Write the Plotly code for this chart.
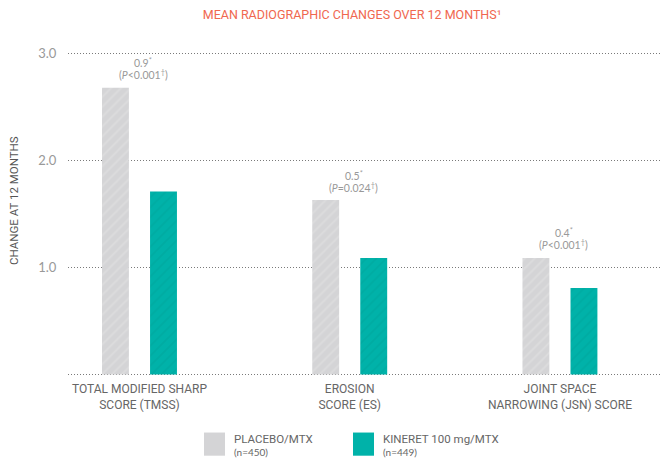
import plotly.graph_objects as go

# chart data
categories = ['TOTAL MODIFIED SHARP<br>SCORE (TMSS)', 'EROSION<br>SCORE (ES)', 'JOINT SPACE<br>NARROWING (JSN) SCORE']
placebo = [2.68, 1.63, 1.09]
kineret = [1.71, 1.09, 0.81]
diffLabels = ['0.9', '0.5', '0.4']
pLabels = ['<0.001', '=0.024', '<0.001']
seriesNames = ['PLACEBO/MTX', 'KINERET 100 mg/MTX']
seriesN = ['(n=450)', '(n=449)']
yTicks = [0, 1, 2, 3]
yTickText = ['', '1.0', '2.0', '3.0']

GRAY = '#d4d4d6'
GRAY_HATCH = '#e3e3e4'
TEAL = '#00b2a9'
TEAL_HATCH = '#00a59c'
TITLE_COLOR = '#f0674f'
TEXT_COLOR = '#666666'
TICK_COLOR = '#999999'

# the page body adds 8px around the plot div, so the figure is 8px smaller
PAGE_PAD = 8


def HatchBar(name, values, bg, fg):
	return go.Bar(
		name=name,
		x=categories,
		y=values,
		marker=dict(
			color=bg,
			line=dict(width=0),
			pattern=dict(shape='/', bgcolor=bg, fgcolor=fg, size=7, solidity=0.25),
		),
		showlegend=False,
		hoverinfo='y',
	)


fig = go.Figure(data=[
	HatchBar(seriesNames[0], placebo, GRAY, GRAY_HATCH),
	HatchBar(seriesNames[1], kineret, TEAL, TEAL_HATCH),
])

fig.update_layout(
	width=668 - PAGE_PAD,
	height=463 - PAGE_PAD,
	autosize=False,
	barmode='group',
	bargap=0.543,
	bargroupgap=0.44,
	plot_bgcolor='white',
	paper_bgcolor='white',
	margin=dict(l=68 - PAGE_PAD, r=0, t=52 - PAGE_PAD, b=87),
	font=dict(family='Roboto, sans-serif', color=TEXT_COLOR, size=11),
	title=dict(
		text='MEAN RADIOGRAPHIC CHANGES OVER 12 MONTHS¹',
		font=dict(family='Roboto, sans-serif', size=12.5, color=TITLE_COLOR),
		x=(352 - PAGE_PAD) / (668 - PAGE_PAD),
		xanchor='center',
		y=1 - (15 - PAGE_PAD) / (463 - PAGE_PAD),
		yanchor='middle',
		xref='container',
		yref='container',
	),
)

fig.update_xaxes(
	type='category',
	range=[-0.34, 2.514],
	showgrid=False,
	showline=False,
	zeroline=False,
	ticks='outside',
	ticklen=2,
	tickcolor='rgba(0,0,0,0)',
	tickfont=dict(family='Roboto, sans-serif', size=12, color=TEXT_COLOR),
)

# range padded a little so the 0 and 3.0 gridlines are still drawn
fig.update_yaxes(
	range=[-0.013, 3.013],
	tickvals=yTicks,
	ticktext=yTickText,
	showgrid=True,
	gridcolor='#7a7a7a',
	gridwidth=1,
	griddash='1px,2px',
	zeroline=False,
	showline=False,
	ticks='outside',
	ticklen=8,
	tickcolor='rgba(0,0,0,0)',
	tickfont=dict(family='Lato, sans-serif', size=13, color=TICK_COLOR),
)

# difference / p-value notes above each placebo bar
for cat, val, d, p in zip(categories, placebo, diffLabels, pLabels):
	fig.add_annotation(
		x=cat,
		y=val,
		xref='x',
		yref='y',
		text=f'{d}<sup>*</sup>',
		showarrow=False,
		yanchor='middle',
		yshift=25,
		xshift=4,
		font=dict(family='Lato, sans-serif', size=10.5, color=TICK_COLOR),
	)
	fig.add_annotation(
		x=cat,
		y=val,
		xref='x',
		yref='y',
		text=f'(<i>P</i>{p}<sup>†</sup>)',
		showarrow=False,
		yanchor='middle',
		yshift=13,
		xshift=4,
		font=dict(family='Lato, sans-serif', size=10.5, color=TICK_COLOR),
	)

# y axis title
fig.add_annotation(
	x=-0.105,
	y=0.54,
	xref='paper',
	yref='paper',
	text='CHANGE AT 12 MONTHS',
	textangle=-90,
	showarrow=False,
	font=dict(family='Roboto, sans-serif', size=11.5, color='#555555'),
)

# custom legend below the chart
legendX = [0.2267, 0.475]
swatchW = 0.035
for lx, name, n, col in zip(legendX, seriesNames, seriesN, [GRAY, TEAL]):
	fig.add_shape(
		type='rect',
		xref='paper',
		yref='paper',
		x0=lx,
		x1=lx + swatchW,
		y0=-0.246,
		y1=-0.1745,
		fillcolor=col,
		line=dict(width=0),
	)
	fig.add_annotation(
		x=lx + swatchW + 0.012,
		y=-0.193,
		xref='paper',
		yref='paper',
		xanchor='left',
		yanchor='middle',
		text=name,
		showarrow=False,
		font=dict(family='Roboto, sans-serif', size=11.5, color=TEXT_COLOR),
	)
	fig.add_annotation(
		x=lx + swatchW + 0.012,
		y=-0.234,
		xref='paper',
		yref='paper',
		xanchor='left',
		yanchor='middle',
		text=n,
		showarrow=False,
		font=dict(family='Lato, sans-serif', size=10, color=TEXT_COLOR),
	)

fig.write_html('out.html')
